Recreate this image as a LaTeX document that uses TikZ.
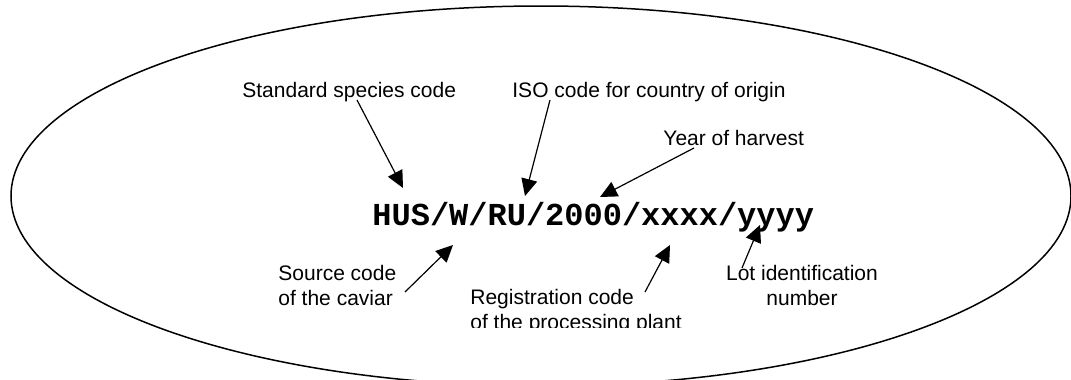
\documentclass[tikz,border=0pt]{standalone}
\usepackage{fontspec}
\setmainfont{Liberation Sans}
\setmonofont{Liberation Mono}
\usetikzlibrary{arrows.meta}

\begin{document}
\begin{tikzpicture}[x=0.5pt, y=-0.5pt,
    lbl/.style={inner sep=0pt, font=\fontsize{10.5}{12.5}\selectfont},
    tag/.style={inner sep=0pt, font=\fontsize{16}{19}\selectfont\ttfamily\bfseries},
    arr/.style={line width=0.6pt, -{Triangle[length=8.5pt, width=8pt]}}
  ]
  \useasboundingbox (0,0) rectangle (1071,380);
  \clip (0,0) rectangle (1071,380);
  \draw[line width=0.75pt] (541,196) ellipse [x radius=265pt, y radius=95pt];

  \node[tag, anchor=base west] (code) at (372,225) {HUS/W/RU/2000/xxxx/yyyy};

  \node[lbl, anchor=base west] (species) at (242,97) {Standard species code};
  \node[lbl, anchor=base west] (iso) at (512,97) {ISO code for country of origin};
  \node[lbl, anchor=base west] (year) at (663,145) {Year of harvest};
  \node[lbl, align=left, anchor=north west] (source) at (278,265) {Source code\\of the caviar};
  \node[lbl, align=center, anchor=north] (lot) at (802,265) {Lot identification\\number};
  \begin{scope}
    \clip (0,0) rectangle (1071,327);
    \node[lbl, align=left, anchor=north west] (reg) at (470,289) {Registration code\\of the processing plant};
  \end{scope}

  % arrow ends
  \coordinate (species-t) at (357,100);
  \coordinate (iso-t) at (550,100);
  \coordinate (year-t) at (694,148);
  \coordinate (source-t) at (405,292);
  \coordinate (reg-t) at (645,292);
  \coordinate (lot-t) at (742,268);
  \coordinate (hus) at (403,188);
  \coordinate (ru) at (525,196);
  \coordinate (yr) at (600,197);
  \coordinate (w) at (453,245);
  \coordinate (xx) at (670,245);
  \coordinate (yy) at (760,225);

  \draw[arr] (species-t) -- (hus);
  \draw[arr] (iso-t) -- (ru);
  \draw[arr] (year-t) -- (yr);
  \draw[arr] (source-t) -- (w);
  \draw[arr] (reg-t) -- (xx);
  \draw[arr] (lot-t) -- (yy);
\end{tikzpicture}
\end{document}
